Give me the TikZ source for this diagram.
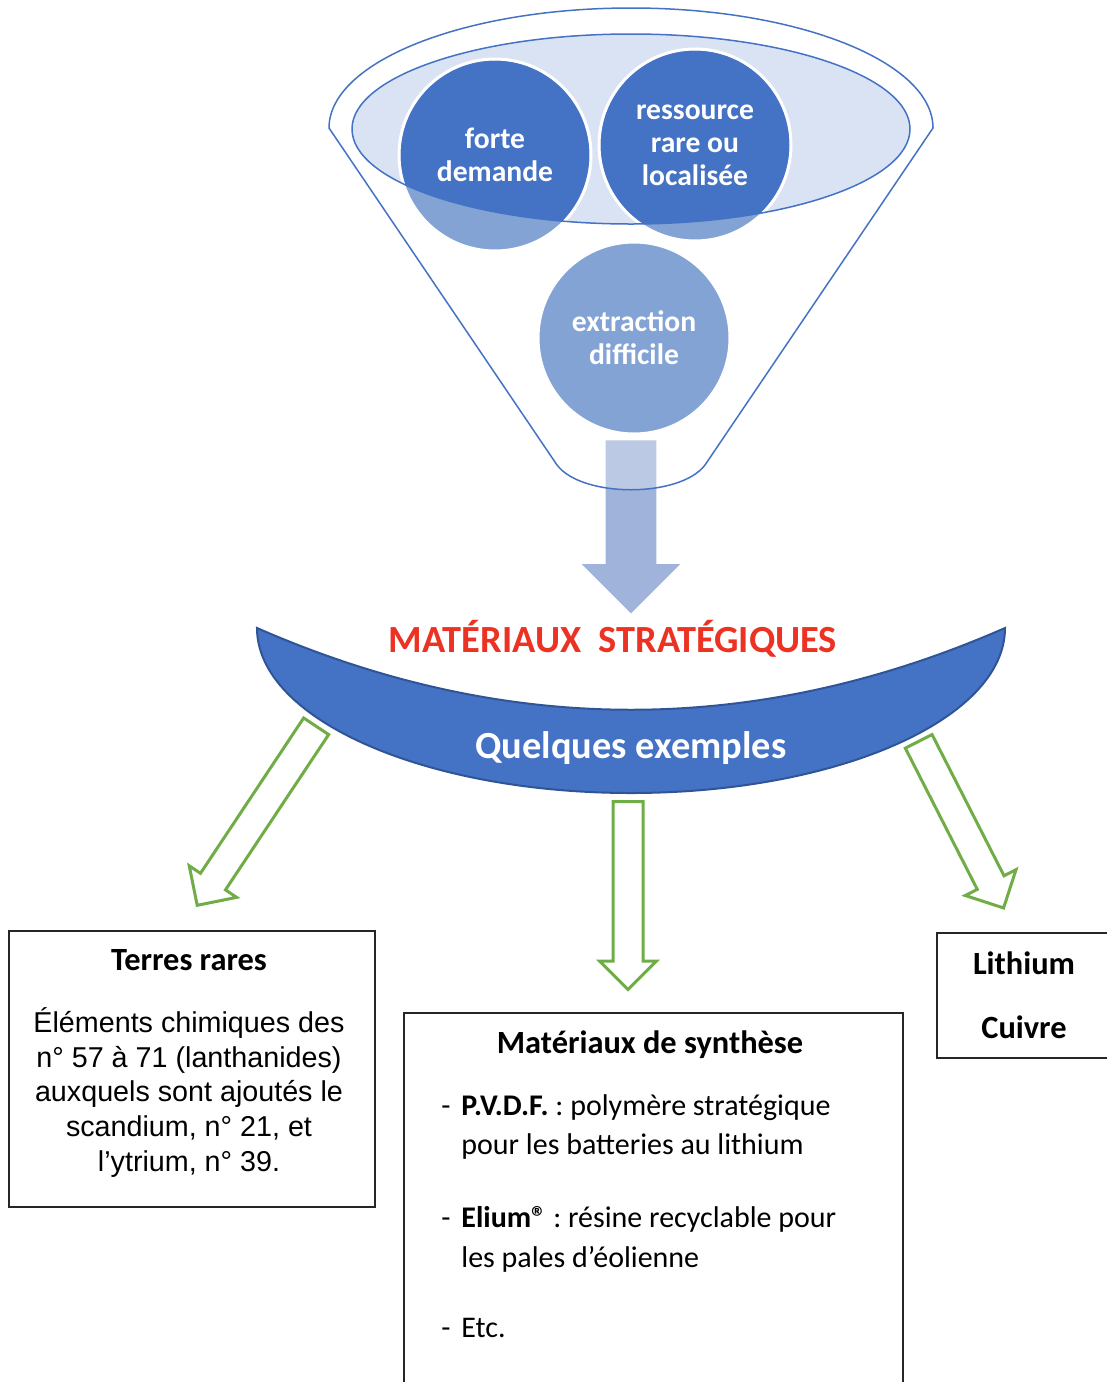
\documentclass[tikz,border=0pt]{standalone}
\usepackage{fontspec}
\setmainfont{Carlito}
\newfontfamily\arialfont{Liberation Sans}
\usetikzlibrary{shapes.arrows,positioning,calc}
\definecolor{accentblue}{HTML}{4472C4}
\definecolor{accentdark}{HTML}{2F5597}
\definecolor{bubblelight}{HTML}{84A3D5}
\definecolor{ellipsefill}{HTML}{DAE3F3}
\definecolor{flowblue}{HTML}{A0B3DA}
\definecolor{titlered}{HTML}{EB3223}
\definecolor{arrowgreen}{HTML}{70AD47}
\definecolor{boxline}{HTML}{262626}

\tikzset{
  bubble/.style={circle, minimum size=96pt, inner sep=0pt, draw=white, line width=1.5pt,
    align=center, text=white, font=\fontsize{14.8}{16.5}\selectfont\bfseries},
  hollowarrow/.style={single arrow, draw=arrowgreen, fill=white, line width=1.5pt,
    inner sep=0pt, inner ysep=6.75pt, single arrow head extend=6.75pt, anchor=tail},
  infobox/.style={draw=boxline, line width=0.75pt, fill=white, inner sep=0pt, anchor=north west},
  boxtitle/.style={anchor=base, inner sep=0pt, font=\fontsize{16.2}{19}\selectfont\bfseries},
  bodytext/.style={anchor=base west, inner sep=0pt, font=\fontsize{15}{19}\selectfont},
  arialtext/.style={anchor=base, inner sep=0pt, font=\arialfont\fontsize{14.35}{17.4}\selectfont},
}

\begin{document}
\frenchspacing
\begin{tikzpicture}[x=0.5pt, y=0.5pt]
  \useasboundingbox (0,0) rectangle (1107,-1382);

  % flow out of the funnel
  \node[single arrow, fill=flowblue, inner sep=0pt, inner ysep=12.5pt,
    single arrow head extend=12pt, minimum height=86.5pt, rotate=-90, anchor=tail] (flow) at (631,-440) {};

  % funnel
  \draw[accentblue, line width=0.75pt, fill=white, fill opacity=0.3]
    (329,-128) arc[start angle=180, end angle=0, x radius=151pt, y radius=60pt]
    -- (705,-465) .. controls (680,-498) and (582,-498) .. (557,-465) -- cycle;
  \fill[ellipsefill] (631,-129) ellipse[x radius=139.5pt, y radius=47.5pt];

  % bubbles: light outside the rim, dark inside it
  \foreach \pos in {{495,-155}, {695,-145}, {634,-338}}
    \fill[bubblelight] (\pos) circle[radius=48pt];
  \begin{scope}
    \clip (631,-129) ellipse[x radius=139.5pt, y radius=47.5pt];
    \fill[accentblue] (495,-155) circle[radius=47.25pt] (695,-145) circle[radius=47.25pt];
  \end{scope}
  \node[bubble] (forte) at (495,-155) {forte\\demande};
  \node[bubble] (ressource) at (695,-145) {ressource\\rare ou\\localisée};
  \node[bubble] (extraction) at (634,-338) {extraction\\difficile};
  \draw[accentblue, line width=0.75pt] (631,-129) ellipse[x radius=139.5pt, y radius=47.5pt];

  % green arrows towards the examples
  \node[hollowarrow, minimum height=107.5pt, rotate=-123.6] (toterres) at (317,-725) {};
  \node[hollowarrow, minimum height=94pt, rotate=-90] (tosynthese) at (628,-800) {};
  \node[hollowarrow, minimum height=93.5pt, rotate=-63] (tometaux) at (918,-740) {};

  % bowl
  \fill[accentblue, draw=accentdark, line width=1pt]
    (257,-628) .. controls (506,-737) and (756,-737) .. (1005,-628)
    arc[start angle=0, end angle=-180, x radius=187pt, y radius=82.5pt] -- cycle;
  \node[anchor=base, inner sep=0pt, text=titlered, font=\fontsize{19.2}{22}\selectfont\bfseries]
    (strategiques) at (613,-652) {MATÉRIAUX\ \ STRATÉGIQUES};
  \node[anchor=base, inner sep=0pt, text=white, font=\fontsize{19.2}{22}\selectfont\bfseries]
    (exemples) at (631,-758) {Quelques exemples};

  % boxes
  \node[infobox, minimum width=183pt, minimum height=138pt] (terres) at (8,-930) {};
  \node[infobox, minimum width=249.5pt, minimum height=200pt] (synthese) at (403,-1012) {};
  \node[infobox, minimum width=88pt, minimum height=62.5pt] (metaux) at (936,-932) {};

  \node[boxtitle] at (189,-970) {Terres rares};
  \foreach \y/\txt in {1032/{Éléments chimiques des}, 1067/{n° 57 à 71 (lanthanides)},
      1101/{auxquels sont ajoutés le}, 1136/{scandium, n° 21, et}, 1171/{l’ytrium, n° 39.}}
    \node[arialtext] at (189,-\y) {\txt};

  \node[boxtitle] at (650,-1053) {Matériaux de synthèse};
  \foreach \y in {1115, 1227, 1337}
    \node[bodytext] at (441,-\y) {-};
  \node[bodytext] at (461,-1115) {\textbf{P.V.D.F.} : polymère stratégique};
  \node[bodytext] at (461,-1154) {pour les batteries au lithium};
  \node[bodytext] at (461,-1227) {\textbf{Elium®} : résine recyclable pour};
  \node[bodytext] at (461,-1267) {les pales d’éolienne};
  \node[bodytext] at (461,-1337) {Etc.};

  \node[boxtitle] at (1024,-974) {Lithium};
  \node[boxtitle] at (1024,-1038) {Cuivre};
\end{tikzpicture}
\end{document}
